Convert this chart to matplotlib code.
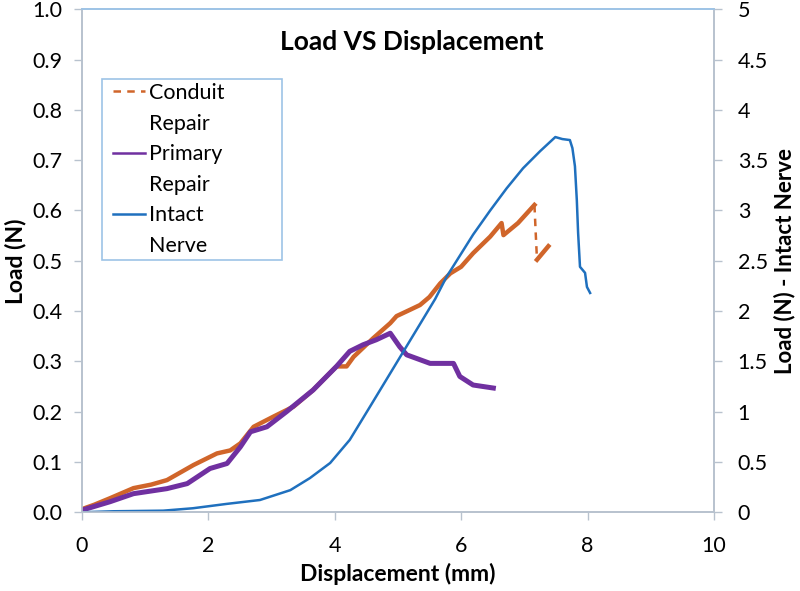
import matplotlib.pyplot as plt
from matplotlib.lines import Line2D
from matplotlib.patches import Rectangle

plt.rcParams['font.family'] = ['Lato', 'DejaVu Sans']

# Conduit repair (left axis, N)
cond_x = [0, 0.2, 0.45, 0.82, 1.1, 1.35, 1.77, 2.14, 2.35, 2.51, 2.72, 3.03, 3.35, 3.66,
          4.03, 4.19, 4.3, 4.61, 4.88, 4.98, 5.2, 5.35, 5.5, 5.67, 5.83, 6.0, 6.19, 6.46,
          6.64, 6.67, 6.9, 7.16, 7.18, 7.2, 7.38]
cond_y = [0.006, 0.015, 0.028, 0.048, 0.055, 0.064, 0.094, 0.117, 0.123, 0.137, 0.17,
          0.19, 0.21, 0.243, 0.29, 0.29, 0.309, 0.346, 0.376, 0.39, 0.403, 0.412, 0.428,
          0.455, 0.475, 0.488, 0.515, 0.548, 0.575, 0.551, 0.575, 0.611, 0.555, 0.502,
          0.529]

# Primary repair (left axis, N)
prim_x = [0, 0.45, 0.82, 1.35, 1.67, 2.03, 2.3, 2.51, 2.67, 2.93, 3.24, 3.66, 4.03,
          4.24, 4.45, 4.66, 4.88, 5.03, 5.14, 5.51, 5.88, 5.98, 6.19, 6.51]
prim_y = [0.004, 0.021, 0.037, 0.047, 0.057, 0.087, 0.097, 0.13, 0.16, 0.17, 0.2,
          0.243, 0.29, 0.32, 0.333, 0.343, 0.356, 0.329, 0.313, 0.296, 0.296, 0.27,
          0.253, 0.247]

# Intact nerve (right axis, N)
int_x = [0, 0.5, 1.29, 1.76, 2.29, 2.82, 3.3, 3.61, 3.93, 4.24, 4.56, 4.83, 5.09,
         5.35, 5.59, 5.77, 5.98, 6.19, 6.46, 6.72, 6.98, 7.25, 7.49, 7.6, 7.72, 7.76,
         7.8, 7.83, 7.85, 7.88, 7.96, 7.99, 8.04]
int_y = [0, 0.01, 0.016, 0.04, 0.083, 0.122, 0.22, 0.34, 0.49, 0.72, 1.05, 1.33, 1.6,
         1.87, 2.12, 2.34, 2.55, 2.76, 3.0, 3.22, 3.42, 3.59, 3.73, 3.71, 3.70, 3.62,
         3.44, 3.10, 2.78, 2.44, 2.38, 2.24, 2.18]

x_ticks = [0, 2, 4, 6, 8, 10]
left_ticks = [0.0, 0.1, 0.2, 0.3, 0.4, 0.5, 0.6, 0.7, 0.8, 0.9, 1.0]
right_ticks = [0, 0.5, 1, 1.5, 2, 2.5, 3, 3.5, 4, 4.5, 5]

c_orange = '#D0652A'
c_purple = '#7030A0'
c_blue = '#1F70BE'
c_axis = '#B8C2CE'
c_frame = '#9DC3E6'

fig = plt.figure(figsize=(8, 5.91), dpi=100)
ax = fig.add_axes([0.102, 0.1332, 0.7906, 0.8511])
ax2 = ax.twinx()

# orange: solid except the vertical drop which is dashed
i_peak = cond_x.index(7.16)
i_drop = cond_x.index(7.2)
ax.plot(cond_x[:i_peak + 1], cond_y[:i_peak + 1], color=c_orange, lw=3.2, zorder=3)
ax.plot(cond_x[i_peak:i_drop + 1], cond_y[i_peak:i_drop + 1], color=c_orange, lw=1.8,
        ls=(0, (3, 2.5)), zorder=3)
ax.plot(cond_x[i_drop:], cond_y[i_drop:], color=c_orange, lw=3.2, zorder=3)
ax.plot(prim_x, prim_y, color=c_purple, lw=3.6, zorder=4)
ax2.plot(int_x, int_y, color=c_blue, lw=1.8)

ax.set_xlim(0, 10)
ax.set_ylim(0, 1.0)
ax2.set_ylim(0, 5)
ax.set_xticks(x_ticks)
ax.set_yticks(left_ticks)
ax.set_yticklabels([f'{v:.1f}' for v in left_ticks])
ax2.set_yticks(right_ticks)
ax2.set_yticklabels([f'{v:g}' for v in right_ticks])

for a in (ax, ax2):
    for s in ('left', 'bottom', 'right'):
        a.spines[s].set_color(c_axis)
        a.spines[s].set_linewidth(1.2)
    a.spines['top'].set_color(c_frame)
    a.spines['top'].set_linewidth(1.2)
    a.tick_params(colors=c_axis, labelcolor='black', labelsize=15.5, length=6, width=1)
ax.tick_params(axis='y', pad=8)
ax.tick_params(axis='x', pad=11)
ax2.tick_params(axis='y', pad=11)

ax.set_xlabel('Displacement (mm)', fontsize=16.5, fontweight='bold', labelpad=5)
ax.set_ylabel('Load (N)', fontsize=16.5, fontweight='bold', labelpad=4)
ax2.set_ylabel('Load (N) - Intact Nerve', fontsize=16, fontweight='bold', labelpad=4)

fig.text(0.515, 0.929, 'Load VS Displacement', fontsize=19, fontweight='bold',
         ha='center', va='center')

# legend box (drawn separately so its size matches the original)
fig.patches.append(Rectangle((101.7 / 800, 1 - 260 / 591), 180.3 / 800, 180.7 / 591,
                             transform=fig.transFigure, fill=True, facecolor='white',
                             edgecolor=c_frame, lw=1.2, zorder=5))
blank = Line2D([], [], color='none')
handles = [Line2D([], [], color=c_orange, lw=1.8, ls=(0, (3, 2.5))), blank,
           Line2D([], [], color=c_purple, lw=1.8), blank,
           Line2D([], [], color=c_blue, lw=1.8), blank]
labels = ['Conduit', 'Repair', 'Primary', 'Repair', 'Intact', 'Nerve']
leg = fig.legend(handles, labels, loc='upper left',
                 bbox_to_anchor=(113 / 800, 1 - 83 / 591),
                 borderaxespad=0, fontsize=15.5, frameon=False,
                 handlelength=1.49, handletextpad=0.19, labelspacing=0.49,
                 borderpad=0)
leg.set_zorder(6)

fig.savefig('out.png', dpi=100)
